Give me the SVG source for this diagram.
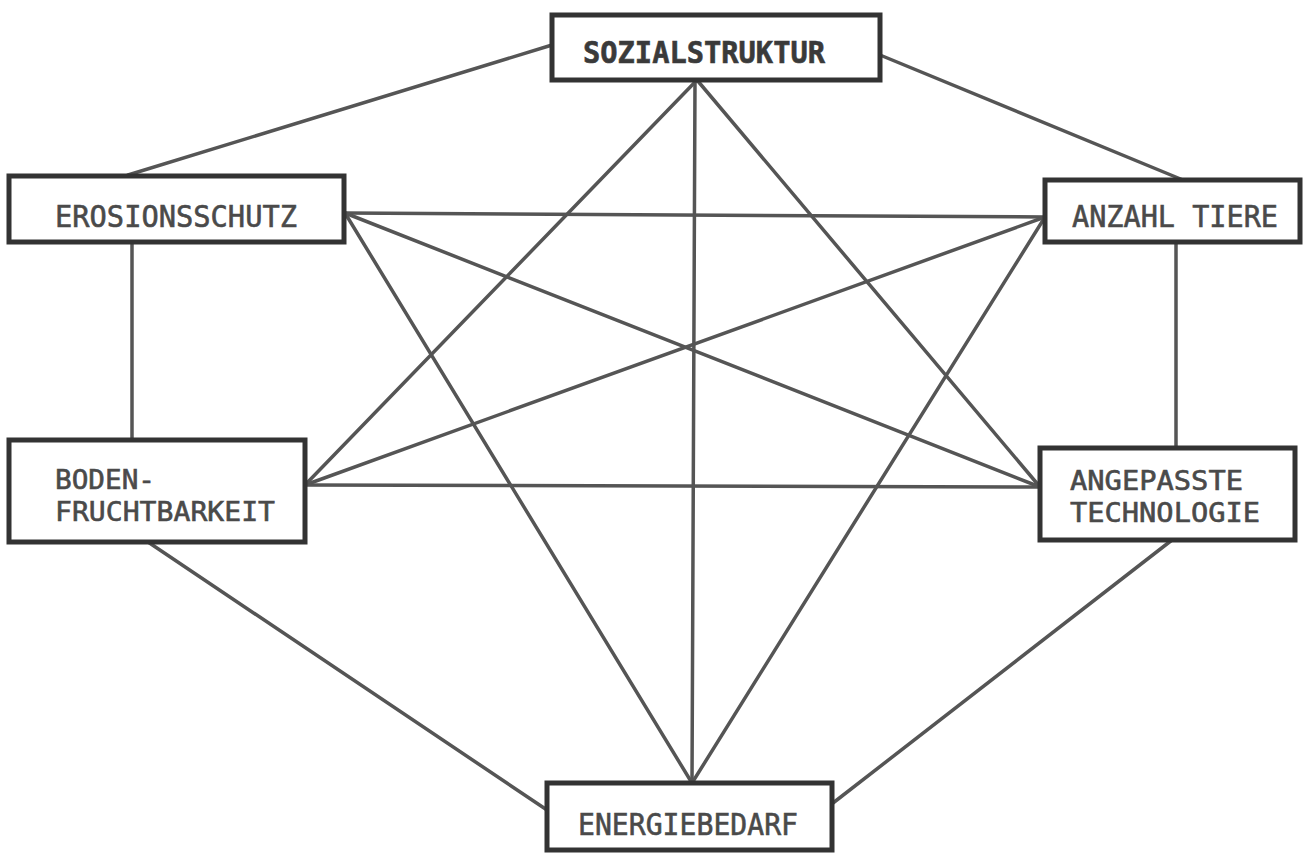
<svg xmlns="http://www.w3.org/2000/svg" width="1303" height="853" viewBox="0 0 1303 853">
<style>
.box{fill:#fff;stroke:#333;stroke-width:5}
.lbl{font-family:"DejaVu Sans Mono","Liberation Mono",monospace;font-size:30px;fill:#4a4a4a;stroke:#4a4a4a;stroke-width:0.6}
.sm{font-size:27px}
.b{font-weight:bold;fill:#3a3a3a;stroke:#3a3a3a}
#connectors line{stroke:#555;stroke-width:3.5;stroke-linecap:round}
</style>
<rect width="1303" height="853" fill="#fff"/>
<g id="connectors">
<line x1="552" y1="45" x2="128" y2="175"/>
<line x1="880" y1="55" x2="1183" y2="180"/>
<line x1="132" y1="242" x2="132" y2="440"/>
<line x1="1176" y1="242" x2="1176" y2="448"/>
<line x1="148" y1="542" x2="547" y2="810"/>
<line x1="1172" y1="540" x2="833" y2="803"/>
<line x1="697" y1="80" x2="305" y2="485"/>
<line x1="697" y1="80" x2="1040" y2="487"/>
<line x1="695" y1="80" x2="692" y2="783"/>
<line x1="345" y1="213" x2="1045" y2="217"/>
<line x1="345" y1="213" x2="1040" y2="487"/>
<line x1="345" y1="213" x2="692" y2="783"/>
<line x1="1045" y1="217" x2="305" y2="485"/>
<line x1="1045" y1="217" x2="692" y2="783"/>
<line x1="305" y1="485" x2="1040" y2="487"/>
</g>
<g id="sozialstruktur">
<rect class="box" x="552" y="15" width="328" height="65"/>
<text class="lbl b" x="583" y="63" textLength="242" lengthAdjust="spacingAndGlyphs">SOZIALSTRUKTUR</text>
</g>
<g id="erosionsschutz">
<rect class="box" x="9" y="176" width="335" height="66"/>
<text class="lbl" x="55" y="227" textLength="242" lengthAdjust="spacingAndGlyphs">EROSIONSSCHUTZ</text>
</g>
<g id="anzahl-tiere">
<rect class="box" x="1045" y="180" width="255" height="62"/>
<text class="lbl" x="1072" y="227" textLength="206" lengthAdjust="spacingAndGlyphs">ANZAHL TIERE</text>
</g>
<g id="bodenfruchtbarkeit">
<rect class="box" x="9" y="440" width="296" height="102"/>
<text class="lbl sm" x="55" y="489" textLength="100" lengthAdjust="spacingAndGlyphs">BODEN-</text>
<text class="lbl sm" x="55" y="521" textLength="220" lengthAdjust="spacingAndGlyphs">FRUCHTBARKEIT</text>
</g>
<g id="angepasste-technologie">
<rect class="box" x="1040" y="448" width="255" height="92"/>
<text class="lbl sm" x="1070" y="490" textLength="173" lengthAdjust="spacingAndGlyphs">ANGEPASSTE</text>
<text class="lbl sm" x="1070" y="522" textLength="190" lengthAdjust="spacingAndGlyphs">TECHNOLOGIE</text>
</g>
<g id="energiebedarf">
<rect class="box" x="547" y="783" width="285" height="67"/>
<text class="lbl" x="578" y="835" textLength="220" lengthAdjust="spacingAndGlyphs">ENERGIEBEDARF</text>
</g>
</svg>
